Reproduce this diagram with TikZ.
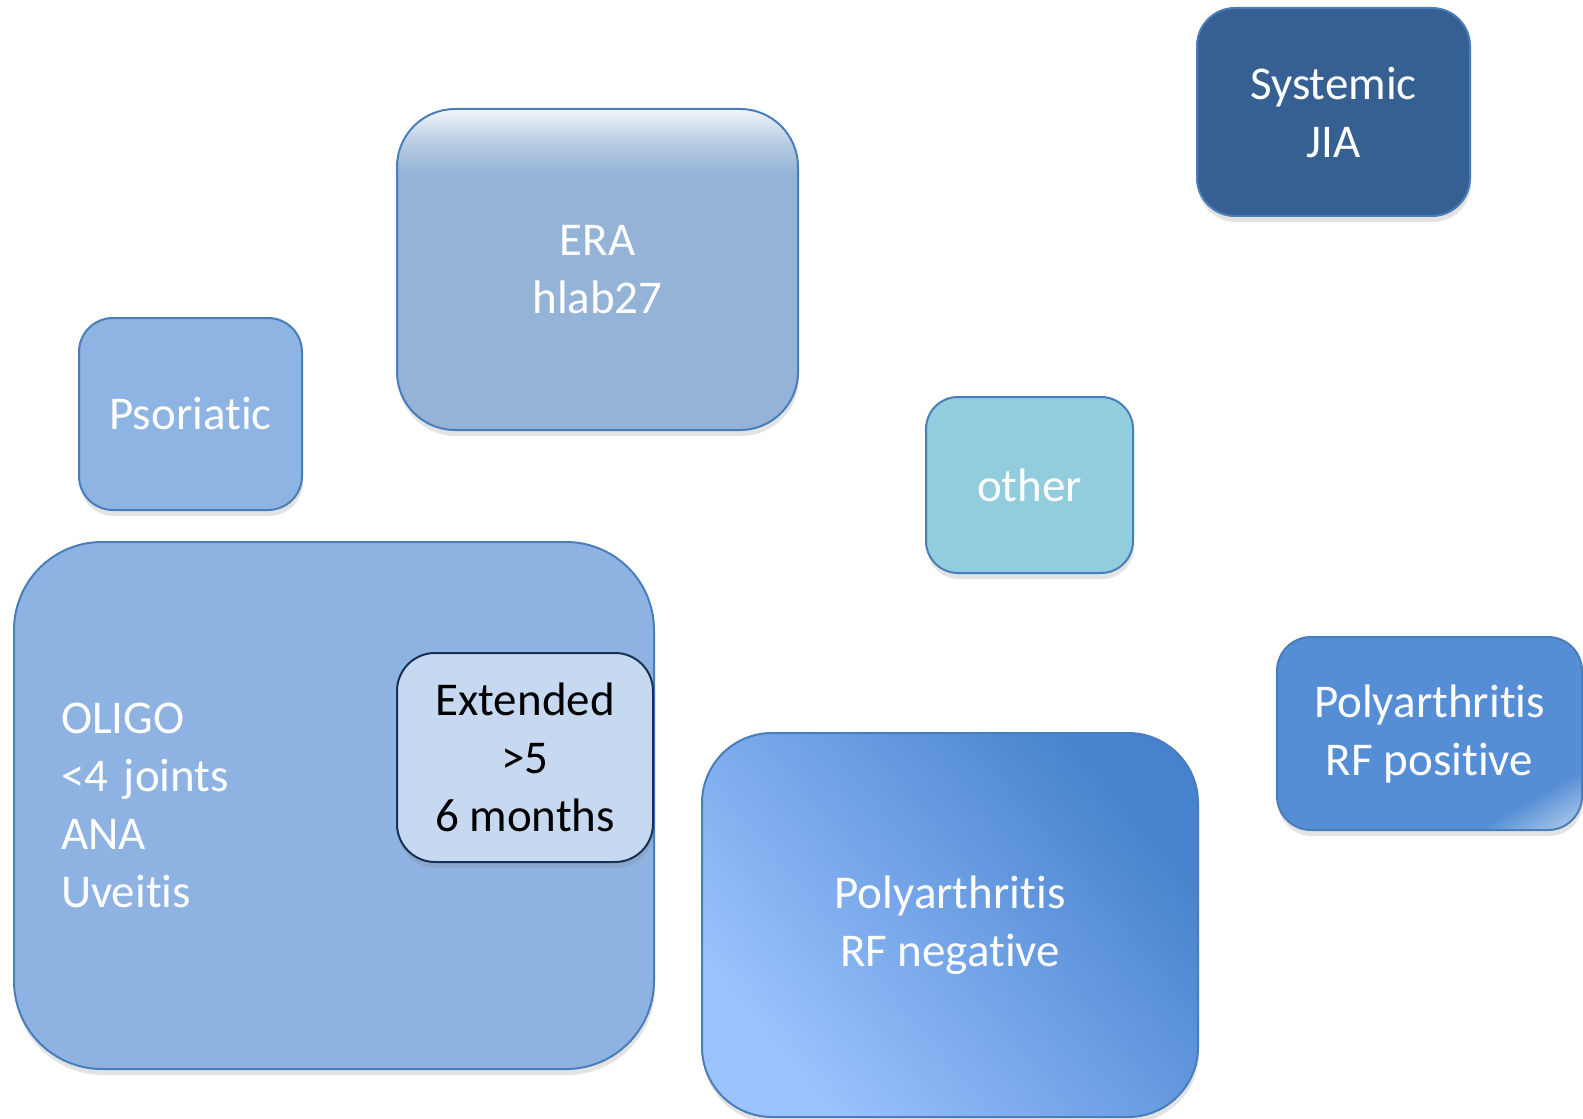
\documentclass[tikz,border=0pt]{standalone}
\usepackage{fontspec}
\setmainfont[Ligatures=NoCommon]{Carlito}
\usetikzlibrary{shadows}
\definecolor{sysfill}{RGB}{54,96,146}
\definecolor{erafill}{RGB}{149,179,215}
\definecolor{psorfill}{RGB}{141,180,226}
\definecolor{otherfill}{RGB}{146,205,221}
\definecolor{oligofill}{RGB}{142,179,226}
\definecolor{extfill}{RGB}{198,217,241}
\definecolor{posfill}{RGB}{85,142,213}
\definecolor{neglight}{RGB}{157,195,255}
\definecolor{negdark}{RGB}{70,130,205}
\definecolor{boxline}{RGB}{74,126,187}
\definecolor{extline}{RGB}{25,48,85}
\pgfdeclareverticalshading{erashade}{100bp}{color(0bp)=(erafill); color(65bp)=(erafill); color(70bp)=(white!35!erafill); color(75bp)=(white!88!erafill); color(100bp)=(white!88!erafill)}
\pgfdeclareverticalshading{posshade}{100bp}{color(0bp)=(white!75!posfill); color(15bp)=(white!75!posfill); color(19bp)=(white!42!posfill); color(27bp)=(posfill); color(100bp)=(posfill)}
\tikzset{
  box/.style={draw=boxline, line width=1pt, rectangle, text=white, align=center,
    font=\fontsize{23.5}{29}\selectfont, inner sep=0pt,
    drop shadow={opacity=0.22, shadow xshift=0.5pt, shadow yshift=-3pt}},
}
\begin{document}
\begin{tikzpicture}[x=0.5pt,y=-0.5pt]
\useasboundingbox[fill=white] (0,0) rectangle (1583,1118);

\node[box, fill=sysfill, minimum width=136.5pt, minimum height=104pt, rounded corners=19pt] (systemic) at (1333.5,112) {Systemic\\JIA};

\node[box, shading=erashade, minimum width=200.5pt, minimum height=160.5pt, rounded corners=29pt] (era) at (597.5,269.5) {ERA\\hlab27};

\node[box, fill=psorfill, minimum width=111.5pt, minimum height=96pt, rounded corners=17pt] (psoriatic) at (190.5,414) {Psoriatic};

\node[box, fill=otherfill, minimum width=103.5pt, minimum height=88pt, rounded corners=16pt] (other) at (1029.5,485) {other};

\node[box, fill=oligofill, minimum width=320pt, minimum height=263.5pt, rounded corners=44pt,
  inner xsep=23.5pt, text width=273pt, align=left] (oligo) at (334,805.5) {OLIGO\\{<}4 joints\\ANA\\Uveitis};

\node[box, fill=extfill, draw=extline, text=black, minimum width=128pt, minimum height=104.5pt, rounded corners=19pt] (extended) at (525,757.5) {Extended\\{>}5\\6 months};

\node[box, top color=negdark, bottom color=neglight, shading angle=-50, minimum width=248pt, minimum height=192pt, rounded corners=35pt] (negative) at (950,925) {Polyarthritis\\RF negative};

\node[box, shading=posshade, shading angle=30, minimum width=152.5pt, minimum height=96.5pt, rounded corners=17pt] (positive) at (1429.5,733.5) {Polyarthritis\\RF positive};
\end{tikzpicture}
\end{document}
